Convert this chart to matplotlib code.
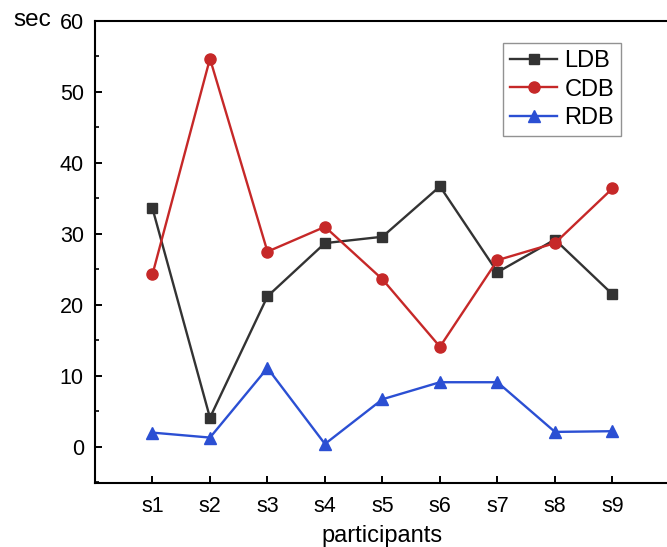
import numpy as np
import matplotlib
matplotlib.use("Agg")
import matplotlib.pyplot as plt
from matplotlib.ticker import MultipleLocator

plt.rcParams['font.family'] = ['Liberation Sans', 'DejaVu Sans']

participants = ["s1", "s2", "s3", "s4", "s5", "s6", "s7", "s8", "s9"]
ldb = [33.6, 4.1, 21.2, 28.7, 29.6, 36.7, 24.6, 29.2, 21.5]
cdb = [24.3, 54.7, 27.5, 31.0, 23.6, 14.1, 26.3, 28.7, 36.4]
rdb = [2.0, 1.3, 11.1, 0.4, 6.7, 9.1, 9.1, 2.1, 2.2]

fig = plt.figure(figsize=(6.67, 5.47), dpi=100)
ax = fig.add_axes([0.1424, 0.117, 0.862, 0.8446])

x = np.arange(len(participants))
ax.plot(x, ldb, color='#333333', marker='s', markersize=7, linewidth=1.7, label='LDB')
ax.plot(x, cdb, color='#C62828', marker='o', markersize=8, linewidth=1.7, label='CDB')
ax.plot(x, rdb, color='#2B4FD3', marker='^', markersize=9, linewidth=1.7, label='RDB')

ax.set_xlim(-1.0, 9.0)
ax.set_ylim(-5.1, 60)
ax.set_xticks(x)
ax.set_xticklabels(participants)
ax.yaxis.set_major_locator(MultipleLocator(10))
ax.yaxis.set_minor_locator(MultipleLocator(5))
ax.tick_params(axis='both', which='major', direction='in', length=5, width=1.4, labelsize=15.5)
ax.tick_params(axis='y', which='minor', direction='in', length=3, width=1.2)
ax.tick_params(axis='x', which='minor', bottom=False)
ax.tick_params(axis='x', pad=9)
ax.tick_params(axis='y', pad=8)
for sp in ax.spines.values():
    sp.set_linewidth(1.5)

ax.set_xlabel("participants", fontsize=17, labelpad=6)
fig.text(0.02, 0.963, "sec", fontsize=17.5, va='center', ha='left')

leg = ax.legend(loc='upper left', bbox_to_anchor=(0.7096, 0.952), fontsize=17,
                frameon=True, fancybox=False, edgecolor='#777777',
                handlelength=2.0, handletextpad=0.3, borderpad=0.3,
                labelspacing=0.27, borderaxespad=0)
leg.get_frame().set_linewidth(1.0)

fig.savefig("out.png", dpi=100)
